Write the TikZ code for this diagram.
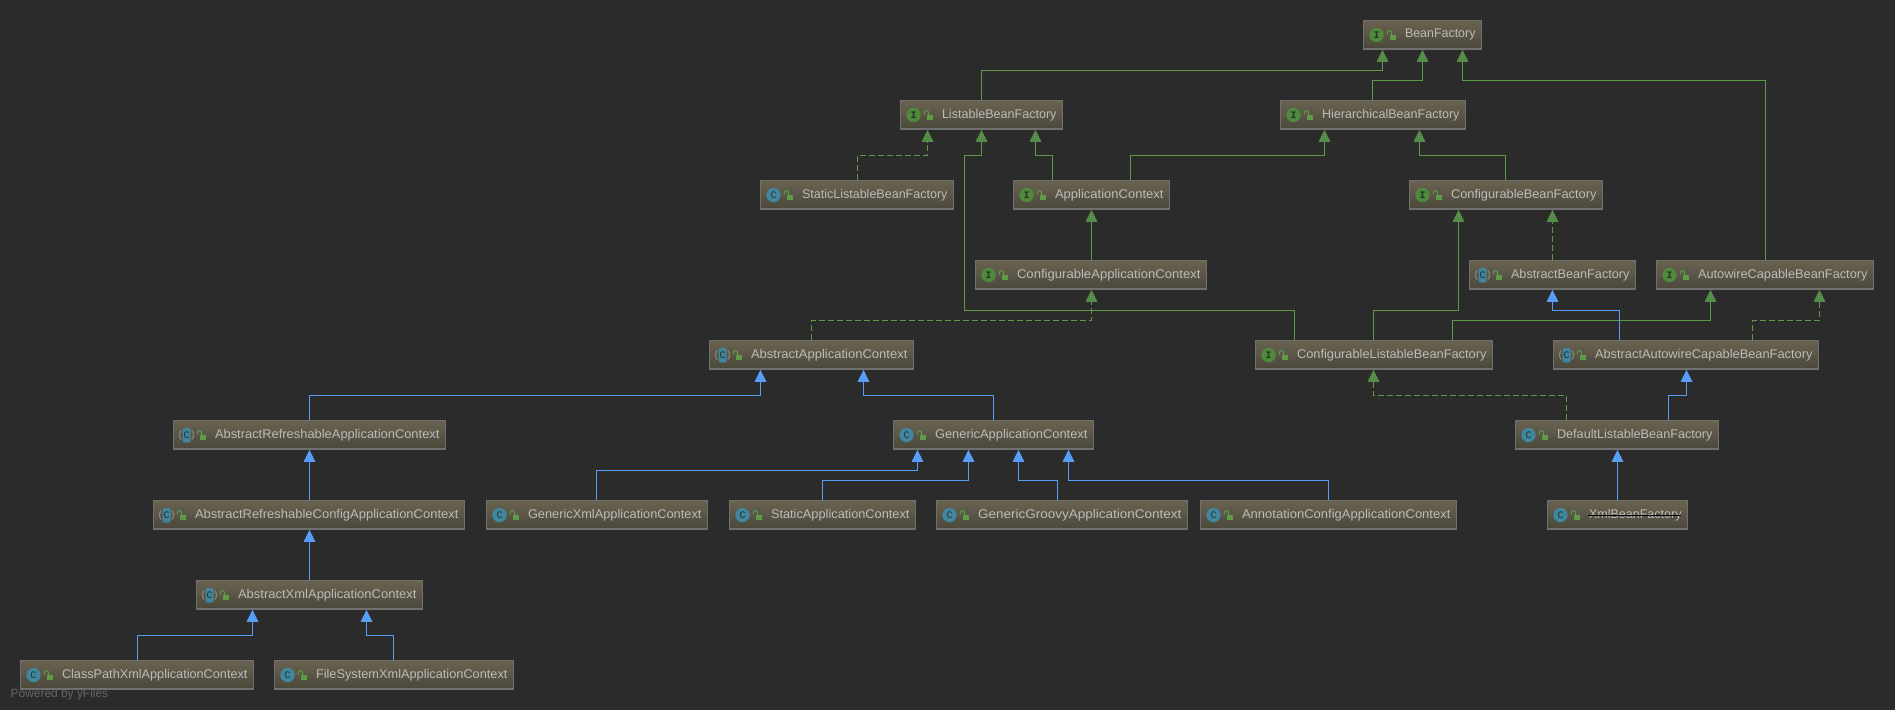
\documentclass[tikz,border=0pt]{standalone}
\usepackage{fontspec}
\usepackage{graphicx}
\setmainfont{Liberation Sans}
\newfontfamily\badgefont{Liberation Mono}
\usetikzlibrary{arrows.meta}
\definecolor{canvas}{HTML}{2B2B2B}
\definecolor{boxtop}{HTML}{6A6351}
\definecolor{boxbot}{HTML}{4A473A}
\definecolor{boxedge}{HTML}{707070}
\definecolor{label}{HTML}{BBBBBB}
\definecolor{igreen}{HTML}{5E9B47}
\definecolor{tipgreen}{HTML}{568C4A}
\definecolor{ablue}{HTML}{589DF6}
\definecolor{iconteal}{HTML}{40869E}
\definecolor{badgegreen}{HTML}{4F8A3C}
\definecolor{inkdark}{HTML}{26302A}
\definecolor{creditgray}{HTML}{666666}
\tikzset{
  x=1pt,y=-1pt,
  classbox/.style={draw=boxedge,line width=1pt,top color=boxtop,bottom color=boxbot,
    minimum height=29pt,inner sep=0pt,anchor=west,align=left,text=label,
    font=\fontsize{12.6}{14}\selectfont},
  extends/.style={draw=ablue,line width=1pt,-{Triangle[length=12pt,width=11.5pt,fill=ablue,sharp]}},
  intf/.style={draw=igreen,line width=1pt,-{Triangle[length=12pt,width=11.5pt,fill=tipgreen,color=tipgreen,sharp]}},
  impl/.style={intf,dash pattern=on 6pt off 3pt},
}
% one class or interface box: name, left, right, top, kind (I, C or A), label
\newcommand{\classnode}[6]{%
  \pgfmathsetlengthmacro{\bw}{#3-#2}%
  \pgfmathsetlengthmacro{\lw}{#3-#2-47.5}%
  \node[classbox,minimum width=\bw,text width=\bw] (#1) at (#2-1,#4+14.75)
    {\hspace*{42pt}\raisebox{-1.6pt}{\resizebox{\lw}{\height}{#6}}};
  \draw[boxedge,line width=1pt] (#1.south west) ++(0,-1) -- ++(\bw,0);
  \iconfor{#5}{#2-1}{#4}%
}
% type badge and open padlock at the left end of a box
\newcommand{\iconfor}[3]{%
  \def\kind{#1}\def\kindI{I}\def\kindA{A}%
  \begin{scope}[shift={(#2,#3)}]
    \ifx\kind\kindI
      \fill[badgegreen] (14,15) circle[radius=7.2pt];
      \node[inner sep=0pt,text=inkdark,font=\badgefont\bfseries\fontsize{10}{10}\selectfont] at (14,15) {I};
    \else
      \ifx\kind\kindA
        \draw[boxedge!85!white,line width=1.1pt] (14,15) ++(140:7pt) arc[start angle=140,end angle=220,radius=7pt];
        \draw[boxedge!85!white,line width=1.1pt] (14,15) ++(-40:7pt) arc[start angle=-40,end angle=40,radius=7pt];
        \fill[iconteal,rounded corners=2pt] (10,8) rectangle (18,22.5);
      \else
        \fill[iconteal] (14,15) circle[radius=7.2pt];
      \fi
      \node[inner sep=0pt,text=inkdark,font=\badgefont\fontsize{10}{10}\selectfont] at (14,15) {C};
    \fi
    \fill[igreen] (27,15.3) rectangle (33,20);
    \draw[igreen,line width=1pt] (29.2,15.3) -- (29.2,12.8) arc[start angle=0,end angle=180,radius=2.2pt] -- (24.8,14.6);
  \end{scope}%
}
% connector with one horizontal run: style, source node, source x, run y, target node, target x
\newcommand{\bentlink}[6]{%
  \draw[#1] (#3,0 |- #2.north) -- (#3,#4) -- (#6,#4) -- (#6,0 |- #5.south);
}
% straight vertical connector: style, source node, x, target node
\newcommand{\uplink}[4]{%
  \draw[#1] (#3,0 |- #2.north) -- (#3,0 |- #4.south);
}
\begin{document}
\begin{tikzpicture}
\useasboundingbox (0,0) rectangle (1895,710);
\fill[canvas] (0,0) rectangle (1895,710);

\classnode{bf}{1363.5}{1481.5}{20}{I}{BeanFactory}
\classnode{lbf}{900.5}{1062.5}{100}{I}{ListableBeanFactory}
\classnode{hbf}{1280.5}{1465.5}{100}{I}{HierarchicalBeanFactory}
\classnode{slbf}{760.5}{953.5}{180}{C}{StaticListableBeanFactory}
\classnode{ac}{1013.5}{1169.5}{180}{I}{ApplicationContext}
\classnode{cbf}{1409.5}{1602.5}{180}{I}{ConfigurableBeanFactory}
\classnode{cac}{975.5}{1206.5}{260}{I}{ConfigurableApplicationContext}
\classnode{abf}{1469.5}{1635.5}{260}{A}{AbstractBeanFactory}
\classnode{acbf}{1656.5}{1873.5}{260}{I}{AutowireCapableBeanFactory}
\classnode{aac}{709.5}{913.5}{340}{A}{AbstractApplicationContext}
\classnode{clbf}{1255.5}{1492.5}{340}{I}{ConfigurableListableBeanFactory}
\classnode{aacbf}{1553.5}{1818.5}{340}{A}{AbstractAutowireCapableBeanFactory}
\classnode{arac}{173.5}{445.5}{420}{A}{AbstractRefreshableApplicationContext}
\classnode{gac}{893.5}{1093.5}{420}{C}{GenericApplicationContext}
\classnode{dlbf}{1515.5}{1718.5}{420}{C}{DefaultListableBeanFactory}
\classnode{arcac}{153.5}{464.5}{500}{A}{AbstractRefreshableConfigApplicationContext}
\classnode{gxac}{486.5}{707.5}{500}{C}{GenericXmlApplicationContext}
\classnode{sac}{729.5}{915.5}{500}{C}{StaticApplicationContext}
\classnode{ggac}{936.5}{1187.5}{500}{C}{GenericGroovyApplicationContext}
\classnode{acac}{1200.5}{1456.5}{500}{C}{AnnotationConfigApplicationContext}
\classnode{xbf}{1547.5}{1687.5}{500}{C}{XmlBeanFactory}
\classnode{axac}{196.5}{422.5}{580}{A}{AbstractXmlApplicationContext}
\classnode{cpxac}{20.5}{253.5}{660}{C}{ClassPathXmlApplicationContext}
\classnode{fsxac}{274.5}{513.5}{660}{C}{FileSystemXmlApplicationContext}

% strike-through over the deprecated class name
\draw[label,line width=0.9pt] (1588,515.5) -- (1681,515.5);

% interface inheritance
\bentlink{intf}{lbf}{981.5}{70.5}{bf}{1382.5}
\bentlink{intf}{hbf}{1372.5}{80.5}{bf}{1422.5}
\bentlink{intf}{acbf}{1765.5}{80.5}{bf}{1462.5}
\bentlink{intf}{ac}{1052.5}{155.5}{lbf}{1035.5}
\bentlink{intf}{ac}{1130.5}{155.5}{hbf}{1324.5}
\bentlink{intf}{cbf}{1505.5}{155.5}{hbf}{1419.5}
\uplink{intf}{cac}{1091.5}{ac}
\draw[intf] (1294.5,0 |- clbf.north) -- (1294.5,310.5) -- (964.5,310.5) -- (964.5,155.5) -- (981.5,155.5) -- (981.5,0 |- lbf.south);
\bentlink{intf}{clbf}{1373.5}{310.5}{cbf}{1458.5}
\bentlink{intf}{clbf}{1452.5}{320.5}{acbf}{1710.5}

% class realises interface
\bentlink{impl}{slbf}{857.5}{155.5}{lbf}{927.5}
\bentlink{impl}{aac}{811.5}{320.5}{cac}{1091.5}
\uplink{impl}{abf}{1552.5}{cbf}
\bentlink{impl}{aacbf}{1752.5}{320.5}{acbf}{1819.5}
\bentlink{impl}{dlbf}{1566.5}{395.5}{clbf}{1373.5}

% class inheritance
\bentlink{extends}{arac}{309.5}{395.5}{aac}{760.5}
\bentlink{extends}{gac}{993.5}{395.5}{aac}{863.5}
\uplink{extends}{arcac}{309.5}{arac}
\uplink{extends}{axac}{309.5}{arcac}
\bentlink{extends}{cpxac}{137.5}{635.5}{axac}{252.5}
\bentlink{extends}{fsxac}{393.5}{635.5}{axac}{366.5}
\bentlink{extends}{gxac}{596.5}{470.5}{gac}{917.5}
\bentlink{extends}{sac}{822.5}{480.5}{gac}{968.5}
\bentlink{extends}{ggac}{1057.5}{480.5}{gac}{1018.5}
\bentlink{extends}{acac}{1328.5}{480.5}{gac}{1068.5}
\bentlink{extends}{aacbf}{1619.5}{310.5}{abf}{1552.5}
\bentlink{extends}{dlbf}{1668.5}{395.5}{aacbf}{1686.5}
\uplink{extends}{xbf}{1617.5}{dlbf}

\node[anchor=west,inner sep=0pt,text=creditgray,font=\fontsize{12}{14}\selectfont] (credit) at (10.5,694) {\resizebox{97.5pt}{\height}{Powered by yFiles}};
\end{tikzpicture}
\end{document}
